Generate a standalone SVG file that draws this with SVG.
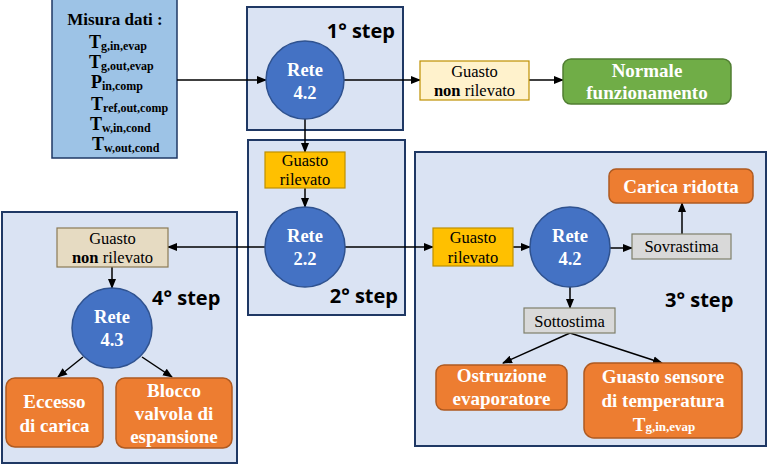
<svg xmlns="http://www.w3.org/2000/svg" width="768" height="464" viewBox="0 0 768 464">
<defs>
<marker id="ah" markerWidth="10" markerHeight="10" refX="9" refY="5" orient="auto" markerUnits="userSpaceOnUse" viewBox="0 0 10 10">
<path d="M0,1 L10,5 L0,9 Z" fill="#000"/>
</marker>
<style>
.step{fill:#DAE3F3;stroke:#1F3864;stroke-width:2}
.circ{fill:#4472C4;stroke:#2F528F;stroke-width:1.5}
.ct{font-family:'Liberation Serif','Tinos','Times New Roman','Noto Serif','DejaVu Serif',serif;font-weight:bold;font-size:18.5px;fill:#fff;text-anchor:middle}
.lbl{font-family:'Liberation Serif','Tinos','Times New Roman','Noto Serif','DejaVu Serif',serif;font-size:16.5px;fill:#000;text-anchor:middle}
.bt{font-family:'Liberation Serif','Tinos','Times New Roman','Noto Serif','DejaVu Serif',serif;font-weight:bold;font-size:19px;fill:#fff;text-anchor:middle}
.sl{font-family:'Open Sans','DejaVu Sans',sans-serif;font-weight:bold;font-size:20px;fill:#000}
.orng{fill:#ED7D31;stroke:#AE5A21;stroke-width:1.5}
.yel{fill:#FFC000;stroke:#BF9000;stroke-width:1.2}
.gry{fill:#D9D9D9;stroke:#7F7F6A;stroke-width:1.2}
.cn{stroke:#000;stroke-width:1.5;fill:none;marker-end:url(#ah)}
.mt{font-family:'Liberation Serif','Tinos','Times New Roman','Noto Serif','DejaVu Serif',serif;font-weight:bold;fill:#000}
</style>
</defs>
<rect width="768" height="464" fill="#fff"/>

<g id="step1">
<rect class="step" x="247" y="7" width="156" height="123"/>
<text class="sl" x="395" y="38" text-anchor="end">1° step</text>
</g>
<g id="step2">
<rect class="step" x="248" y="140" width="157" height="175"/>
<text class="sl" x="398" y="303" text-anchor="end">2° step</text>
</g>
<g id="step3">
<rect class="step" x="415" y="152" width="351" height="294"/>
<text class="sl" x="665" y="307">3° step</text>
</g>
<g id="step4">
<rect class="step" x="2" y="212" width="235" height="251"/>
<text class="sl" x="152" y="305">4° step</text>
</g>

<g id="measure">
<rect x="52" y="-2" width="125" height="160" fill="#9DC3E6" stroke="#1F3864" stroke-width="1.5"/>
<text class="mt" x="115" y="25" font-size="17" text-anchor="middle">Misura dati :</text>
<text class="mt" x="89" y="48" font-size="18">T<tspan font-size="12" dy="2">g,in,evap</tspan></text>
<text class="mt" x="89" y="68" font-size="18">T<tspan font-size="12" dy="2">g,out,evap</tspan></text>
<text class="mt" x="91" y="88" font-size="18">P<tspan font-size="12" dy="2">in,comp</tspan></text>
<text class="mt" x="91" y="110" font-size="18">T<tspan font-size="12" dy="2">ref,out,comp</tspan></text>
<text class="mt" x="90" y="130" font-size="18">T<tspan font-size="12" dy="2">w,in,cond</tspan></text>
<text class="mt" x="92" y="150" font-size="18">T<tspan font-size="12" dy="2">w,out,cond</tspan></text>
</g>

<g id="connectors">
<line class="cn" x1="177" y1="80" x2="266" y2="80"/>
<line class="cn" x1="344" y1="80" x2="420" y2="80"/>
<line class="cn" x1="529" y1="80" x2="563" y2="80"/>
<line class="cn" x1="305" y1="119" x2="305" y2="152"/>
<line class="cn" x1="305" y1="188" x2="305" y2="207"/>
<line class="cn" x1="265" y1="247" x2="168" y2="247"/>
<line class="cn" x1="345" y1="247" x2="433" y2="247"/>
<line class="cn" x1="513" y1="247" x2="530" y2="247"/>
<line class="cn" x1="610" y1="248" x2="632" y2="248"/>
<line class="cn" x1="682" y1="234" x2="682" y2="203"/>
<line class="cn" x1="570" y1="287" x2="570" y2="308"/>
<line class="cn" x1="570" y1="333" x2="503" y2="363"/>
<line class="cn" x1="570" y1="333" x2="662" y2="363"/>
<line class="cn" x1="112" y1="267" x2="112" y2="288"/>
<line class="cn" x1="83" y1="357" x2="58" y2="377"/>
<line class="cn" x1="142" y1="357" x2="172" y2="377"/>
</g>

<g id="rete42a">
<circle class="circ" cx="305" cy="80" r="39"/>
<text class="ct" x="305" y="76">Rete</text>
<text class="ct" x="305" y="99">4.2</text>
</g>
<g id="nonril1">
<rect x="420" y="61" width="109" height="39" fill="#FFF2CC" stroke="#BF9000" stroke-width="1.2"/>
<text class="lbl" x="474.5" y="77">Guasto</text>
<text class="lbl" x="474.5" y="96"><tspan font-weight="bold">non</tspan> rilevato</text>
</g>
<g id="normale">
<rect x="563" y="59" width="168" height="45" rx="8" fill="#70AD47" stroke="#507E32" stroke-width="1.5"/>
<text class="bt" x="647" y="77">Normale</text>
<text class="bt" x="647" y="99">funzionamento</text>
</g>
<g id="ril1">
<rect class="yel" x="265" y="152" width="80" height="36"/>
<text class="lbl" x="305" y="166">Guasto</text>
<text class="lbl" x="305" y="185">rilevato</text>
</g>
<g id="rete22">
<circle class="circ" cx="305" cy="247" r="40"/>
<text class="ct" x="305" y="242">Rete</text>
<text class="ct" x="305" y="265">2.2</text>
</g>
<g id="nonril2">
<rect x="57" y="228" width="111" height="39" fill="#E6DBC2" stroke="#8B7A55" stroke-width="1.2"/>
<text class="lbl" x="112.5" y="244">Guasto</text>
<text class="lbl" x="112.5" y="263"><tspan font-weight="bold">non</tspan> rilevato</text>
</g>
<g id="rete43">
<circle class="circ" cx="112" cy="328" r="40"/>
<text class="ct" x="112" y="323">Rete</text>
<text class="ct" x="112" y="346">4.3</text>
</g>
<g id="eccesso">
<rect class="orng" x="6" y="378" width="97" height="69" rx="9"/>
<text class="bt" x="54.5" y="408">Eccesso</text>
<text class="bt" x="54.5" y="432">di carica</text>
</g>
<g id="blocco">
<rect class="orng" x="116" y="378" width="116" height="70" rx="9"/>
<text class="bt" x="174" y="397">Blocco</text>
<text class="bt" x="174" y="420">valvola di</text>
<text class="bt" x="174" y="443">espansione</text>
</g>
<g id="ril2">
<rect class="yel" x="433" y="228" width="80" height="38"/>
<text class="lbl" x="473" y="243">Guasto</text>
<text class="lbl" x="473" y="263">rilevato</text>
</g>
<g id="rete42b">
<circle class="circ" cx="570" cy="247" r="40"/>
<text class="ct" x="570" y="242">Rete</text>
<text class="ct" x="570" y="265">4.2</text>
</g>
<g id="sovrastima">
<rect class="gry" x="632" y="234" width="99" height="25"/>
<text class="lbl" x="681.5" y="252">Sovrastima</text>
</g>
<g id="carica">
<rect class="orng" x="609" y="169" width="144" height="34" rx="7"/>
<text class="bt" x="681" y="193">Carica ridotta</text>
</g>
<g id="sottostima">
<rect class="gry" x="524" y="308" width="91" height="25"/>
<text class="lbl" x="569.5" y="327">Sottostima</text>
</g>
<g id="ostruzione">
<rect class="orng" x="436" y="365" width="131" height="45" rx="8"/>
<text class="bt" x="501.5" y="382">Ostruzione</text>
<text class="bt" x="501.5" y="405">evaporatore</text>
</g>
<g id="sensore">
<rect class="orng" x="584" y="363" width="158" height="75" rx="10"/>
<text class="bt" x="663" y="383">Guasto sensore</text>
<text class="bt" x="663" y="407">di temperatura</text>
<text class="bt" x="664" y="431" font-size="17">T<tspan font-size="13">g,in,evap</tspan></text>
</g>
</svg>
